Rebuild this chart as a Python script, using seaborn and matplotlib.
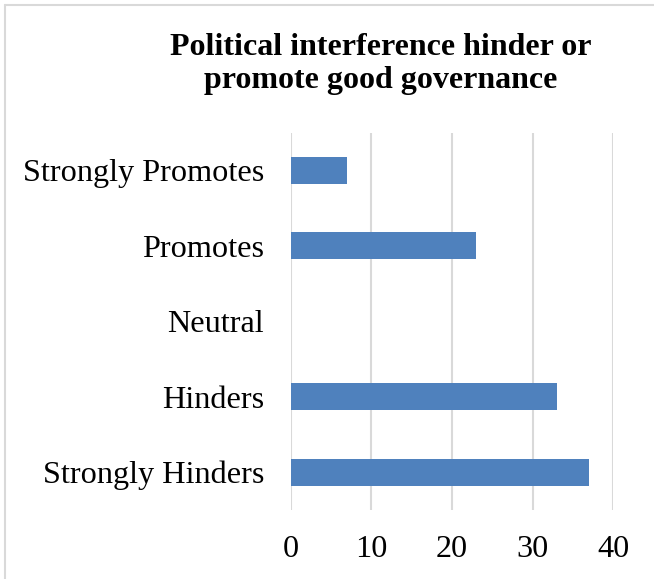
import matplotlib
matplotlib.use("Agg")
import matplotlib.pyplot as plt
import seaborn as sns
import pandas as pd
from matplotlib.lines import Line2D

categories = ["Strongly Promotes", "Promotes", "Neutral", "Hinders", "Strongly Hinders"]
values = [7, 23, 0, 33, 37]
xticks = [0, 10, 20, 30, 40]
title = "Political interference hinder or\npromote good governance"

sns.set_theme(style="white")
plt.rcParams['font.family'] = ['Liberation Serif', 'DejaVu Serif']

df = pd.DataFrame({"category": categories, "value": values})

fig = plt.figure(figsize=(6.54, 5.79), dpi=100)
ax = fig.add_axes([290.5/654, 1-510/579, (613.3-290.5)/654, (510-132.5)/579])

sns.barplot(data=df, x="value", y="category", order=categories, orient="h",
            color="#4F81BD", saturation=1, width=0.354, ax=ax, zorder=3,
            linewidth=0)

ax.set_xlim(0, 40)
ax.set_xticks(xticks)
ax.set_xticklabels([str(t) for t in xticks])
ax.set_xlabel("")
ax.set_ylabel("")
for s in ax.spines.values():
    s.set_visible(False)
ax.grid(axis="x", color="#D9D9D9", linewidth=1.5, zorder=0)
ax.grid(axis="y", visible=False)
ax.set_axisbelow(True)
ax.tick_params(axis="both", length=0, labelsize=23.2, colors="black")
ax.tick_params(axis="x", pad=18)
ax.tick_params(axis="y", pad=19)

fig.text(381/654, 1-64/579, title, ha="center", va="center", fontsize=23,
         fontweight="bold", linespacing=1.2, color="black")

# chart-area border (only the left and top edges are visible)
fig.add_artist(Line2D([5.5/654, 5.5/654], [0, 1-5/579], transform=fig.transFigure,
                      color="#D9D9D9", linewidth=1.5))
fig.add_artist(Line2D([5.5/654, 1], [1-5/579, 1-5/579], transform=fig.transFigure,
                      color="#D9D9D9", linewidth=1.5))

fig.savefig("out.png", dpi=100)
